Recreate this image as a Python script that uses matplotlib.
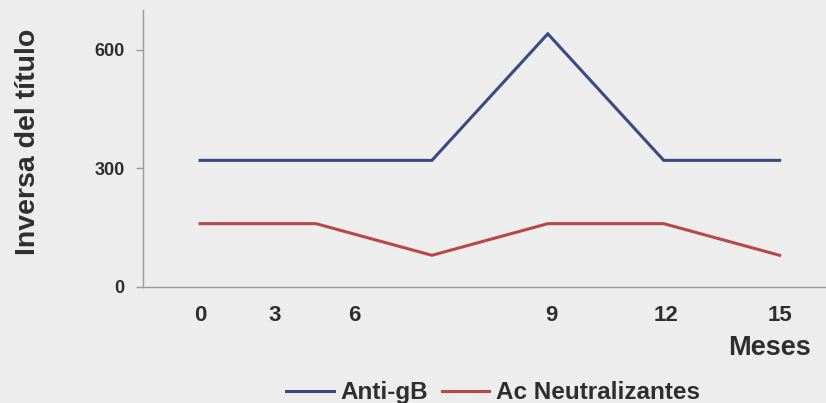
import matplotlib
matplotlib.use("Agg")
import matplotlib.pyplot as plt
from matplotlib import font_manager

# Data: antibody titres (inverse of titre) by month
months = [0, 3, 6, 9, 12, 15]
anti_gb = [320, 320, 320, 640, 320, 320]
ac_neutralizantes = [160, 160, 80, 160, 160, 80]

series_names = ["Anti-gB", "Ac Neutralizantes"]
y_ticks = [0, 300, 600]
x_tick_labels = ["0", "3", "6", "9", "12", "15"]
# horizontal placement of the month labels under the axis
x_tick_label_pos = [0.0, 1.92, 4.0, 9.1, 12.05, 15.0]

available = {f.name for f in font_manager.fontManager.ttflist}


def pick(*families):
    for fam in families:
        if fam in available:
            return fam
    return "DejaVu Sans"


font = pick("Liberation Sans", "Arimo", "Arial")

bg = "#ededed"
text_color = "#2e2e2e"
blue = "#3b4a80"
red = "#b8474a"

fig = plt.figure(figsize=(8.26, 4.03), dpi=100, facecolor=bg)
ax = fig.add_axes([0.173, 0.288, 0.827, 0.687], facecolor=bg)

ax.plot(months, anti_gb, color=blue, lw=2.2, label=series_names[0], solid_joinstyle="miter")
ax.plot(months, ac_neutralizantes, color=red, lw=2.2, label=series_names[1], solid_joinstyle="miter")

ax.set_xlim(-1.48, 16.2)
ax.set_ylim(0, 700)

for side in ["top", "right"]:
    ax.spines[side].set_visible(False)
for side in ["left", "bottom"]:
    ax.spines[side].set_color("#9a9a9a")
    ax.spines[side].set_linewidth(1.0)

ax.set_yticks(y_ticks)
ax.set_yticklabels([str(v) for v in y_ticks], fontfamily=font, fontweight="bold",
                   fontsize=13, color=text_color)
ax.tick_params(axis="y", length=5, width=1, color="#9a9a9a", pad=8)

ax.set_xticks(x_tick_label_pos)
ax.set_xticklabels(x_tick_labels, fontfamily=font, fontweight="bold",
                   fontsize=16, color=text_color)
ax.tick_params(axis="x", length=0, pad=13)

fig.text(0.034, 1 - 142 / 403, "Inversa del título", rotation=90,
         fontfamily=font, fontweight="bold", fontsize=20.5, color=text_color,
         ha="center", va="center")

fig.text(811 / 826, 1 - 355 / 403, "Meses", fontfamily=font, fontweight="bold",
         fontsize=19.5, color=text_color, ha="right", va="baseline")

leg = fig.legend(loc="lower center", bbox_to_anchor=(0.597, -0.058), ncol=2, frameon=False,
                 prop={"family": font, "weight": "bold", "size": 17.5},
                 handlelength=1.95, handletextpad=0.28, columnspacing=0.56)
for t in leg.get_texts():
    t.set_color(text_color)

fig.savefig("out.png", dpi=100, facecolor=bg)
